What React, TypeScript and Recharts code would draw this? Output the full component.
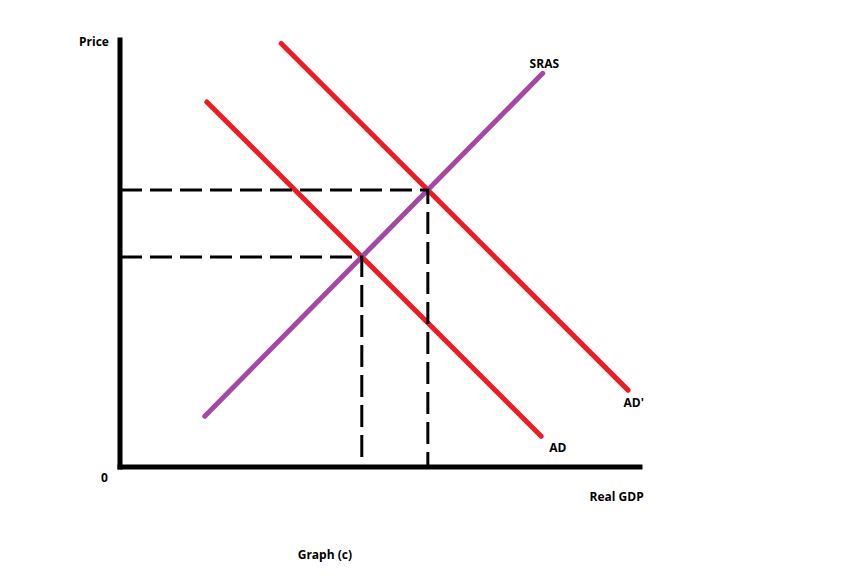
import { LineChart, Line, XAxis, YAxis, ReferenceDot } from "recharts";

// curves in chart units (x: real GDP 0-100, y: price 0-100)
const adCurve = [
  { x: 16.7, y: 85.5 },
  { x: 81.0, y: 7.2 },
];
const adPrimeCurve = [
  { x: 31.0, y: 99.2 },
  { x: 97.7, y: 18.0 },
];
const srasCurve = [
  { x: 16.3, y: 11.9 },
  { x: 81.3, y: 92.2 },
];

// equilibria: old (AD x SRAS) and new (AD' x SRAS)
const eqOld = { x: 46.5, y: 49.2 };
const eqNew = { x: 59.2, y: 64.9 };

const curveLabels = [
  { text: "SRAS", x: 81.6, y: 94.4 },
  { text: "AD'", x: 98.8, y: 15.0 },
  { text: "AD", x: 84.2, y: 4.4 },
];
const axisLabels = [
  { text: "Price", x: -5, y: 99.5 },
  { text: "0", x: -3, y: -2.5 },
  { text: "Real GDP", x: 95.5, y: -7.0 },
  { text: "Graph (c)", x: 39.4, y: -20.5 },
];

const RED = "#ed1c24";
const PURPLE = "#a349a4";

function guide(p: { x: number; y: number }) {
  return [
    { x: 0, y: p.y },
    { x: p.x, y: p.y },
    { x: p.x, y: 0 },
  ];
}

export default function App() {
  const labels = [...curveLabels, ...axisLabels];
  return (
    <div
      style={{
        position: "absolute",
        left: 0,
        top: 0,
        width: 845,
        height: 577,
        background: "#fff",
        fontFamily: "'Open Sans', sans-serif",
      }}
    >
      <LineChart
        width={845}
        height={577}
        margin={{ top: 40, right: 205, bottom: 80, left: 60 }}
      >
        <XAxis
          type="number"
          dataKey="x"
          domain={[0, 100]}
          allowDataOverflow
          height={30}
          tick={false}
          tickLine={false}
          axisLine={{ stroke: "#000", strokeWidth: 5, strokeLinecap: "square" }}
        />
        <YAxis
          type="number"
          dataKey="y"
          domain={[0, 100]}
          allowDataOverflow
          width={60}
          tick={false}
          tickLine={false}
          axisLine={{ stroke: "#000", strokeWidth: 5, strokeLinecap: "square" }}
        />
        <Line
          data={adCurve}
          dataKey="y"
          stroke={RED}
          strokeWidth={5}
          strokeLinecap="round"
          dot={false}
          isAnimationActive={false}
        />
        <Line
          data={adPrimeCurve}
          dataKey="y"
          stroke={RED}
          strokeWidth={5}
          strokeLinecap="round"
          dot={false}
          isAnimationActive={false}
        />
        <Line
          data={srasCurve}
          dataKey="y"
          stroke={PURPLE}
          strokeWidth={5}
          strokeLinecap="round"
          dot={false}
          isAnimationActive={false}
        />
        <Line
          data={guide(eqOld)}
          dataKey="y"
          stroke="#000"
          strokeWidth={3}
          strokeDasharray="22 8"
          dot={false}
          isAnimationActive={false}
        />
        <Line
          data={guide(eqNew)}
          dataKey="y"
          stroke="#000"
          strokeWidth={3}
          strokeDasharray="22 8"
          dot={false}
          isAnimationActive={false}
        />
        {labels.map((l) => (
          <ReferenceDot
            key={l.text}
            x={l.x}
            y={l.y}
            r={0}
            ifOverflow="visible"
            stroke="none"
            fill="none"
            label={{
              value: l.text,
              position: "center",
              fill: "#000",
              fontSize: 12,
              fontWeight: 700,
            }}
          />
        ))}
      </LineChart>
    </div>
  );
}
